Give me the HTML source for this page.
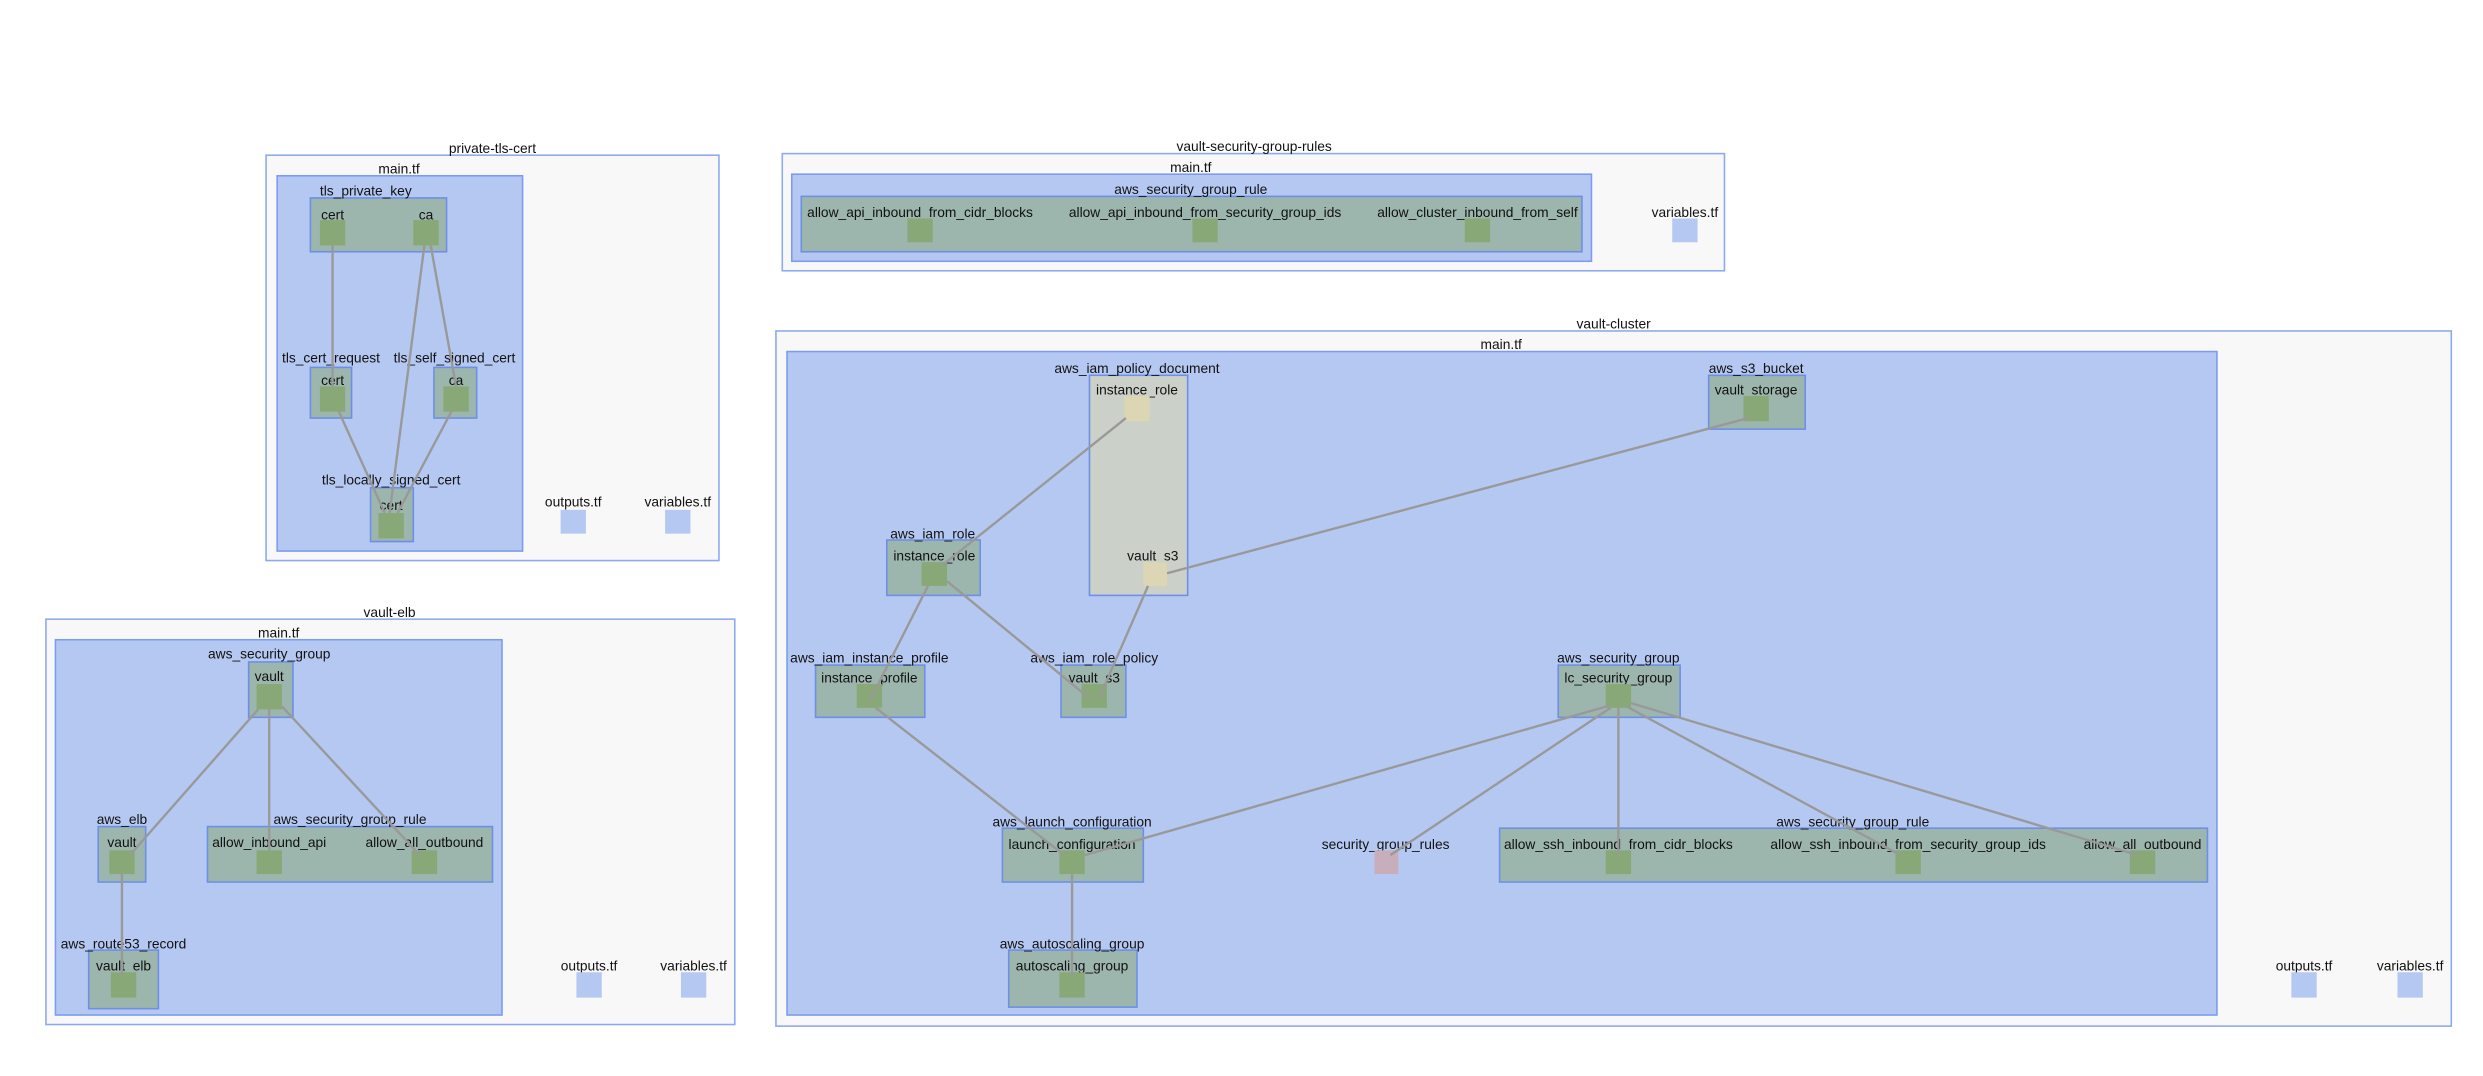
<!DOCTYPE html>
<html><head><meta charset="utf-8"><style>
html,body{margin:0;padding:0;background:#fff;}
svg{display:block;}
text{font-family:"Liberation Sans",sans-serif;font-size:8.7px;fill:#111;text-anchor:middle;transform:translateY(1px);}
.o{fill:#f8f8f8;stroke:#8caaf0;stroke-width:1;}
.m{fill:#b5c8f2;stroke:#7b9cf0;stroke-width:1;}
.r{fill:#9cb5ad;stroke:#6e8fe6;stroke-width:1;}
.p{fill:#cbd0c8;stroke:#6e8fe6;stroke-width:1;}
.s{fill:#88a878;}
.t{fill:#ddd6b4;}
.f{fill:#b5c8f2;}
.k{fill:#c8aebb;}
.e{stroke:#999;stroke-width:1.5;fill:none;}
</style></head><body>
<svg width="2483" height="1076" viewBox="0 0 1568 679.5" xmlns="http://www.w3.org/2000/svg">
<!-- private-tls-cert -->
<rect class="o" x="168" y="98" width="286" height="256"/><text x="311" y="95.5">private-tls-cert</text>
<rect class="m" x="175" y="111" width="155" height="237"/><text x="252" y="108.5">main.tf</text>
<rect class="r" x="196" y="125" width="86" height="34"/><text x="231" y="122.5">tls_private_key</text>
<text x="210" y="137.5">cert</text><rect class="s" x="202" y="139" width="16" height="16"/>
<text x="269" y="137.5">ca</text><rect class="s" x="261" y="139" width="16" height="16"/>
<rect class="r" x="196" y="232" width="26" height="32"/><text x="209" y="228">tls_cert_request</text>
<text x="210" y="242">cert</text><rect class="s" x="202" y="244" width="16" height="16"/>
<rect class="r" x="274" y="232" width="27" height="32"/><text x="287" y="228">tls_self_signed_cert</text>
<text x="288" y="242">ca</text><rect class="s" x="280" y="244" width="16" height="16"/>
<rect class="r" x="234" y="308" width="27" height="34"/><text x="247" y="305">tls_locally_signed_cert</text>
<text x="247" y="321">cert</text><rect class="s" x="239" y="324" width="16" height="16"/>
<text x="362" y="319">outputs.tf</text><rect class="f" x="354" y="322" width="16" height="15"/>
<text x="428" y="319">variables.tf</text><rect class="f" x="420" y="322" width="16" height="15"/>
<line class="e" x1="210" y1="155" x2="210" y2="244"/>
<line class="e" x1="268" y1="155" x2="246" y2="324"/>
<line class="e" x1="272" y1="155" x2="288" y2="244"/>
<line class="e" x1="214" y1="260" x2="243" y2="324"/>
<line class="e" x1="285" y1="260" x2="251" y2="324"/>

<!-- vault-security-group-rules -->
<rect class="o" x="494" y="97" width="595" height="74"/><text x="792" y="94.5">vault-security-group-rules</text>
<rect class="m" x="500" y="110" width="505" height="55"/><text x="752" y="107.5">main.tf</text>
<rect class="r" x="506" y="124" width="493" height="35"/><text x="752" y="121.5">aws_security_group_rule</text>
<text x="581" y="136">allow_api_inbound_from_cidr_blocks</text><rect class="s" x="573" y="138" width="16" height="15"/>
<text x="761" y="136">allow_api_inbound_from_security_group_ids</text><rect class="s" x="753" y="138" width="16" height="15"/>
<text x="933" y="136">allow_cluster_inbound_from_self</text><rect class="s" x="925" y="138" width="16" height="15"/>
<text x="1064" y="136">variables.tf</text><rect class="f" x="1056" y="138" width="16" height="15"/>

<!-- vault-elb -->
<rect class="o" x="29" y="391" width="435" height="256"/><text x="246" y="388.5">vault-elb</text>
<rect class="m" x="35" y="404" width="282" height="237"/><text x="176" y="401.5">main.tf</text>
<rect class="r" x="157" y="418" width="28" height="35"/><text x="170" y="415">aws_security_group</text>
<text x="170" y="429">vault</text><rect class="s" x="162" y="432" width="16" height="16"/>
<rect class="r" x="62" y="522" width="30" height="35"/><text x="77" y="519.5">aws_elb</text>
<text x="77" y="534">vault</text><rect class="s" x="69" y="537" width="16" height="15"/>
<rect class="r" x="131" y="522" width="180" height="35"/><text x="221" y="519.5">aws_security_group_rule</text>
<text x="170" y="534">allow_inbound_api</text><rect class="s" x="162" y="537" width="16" height="15"/>
<text x="268" y="534">allow_all_outbound</text><rect class="s" x="260" y="537" width="16" height="15"/>
<rect class="r" x="56" y="600" width="44" height="37"/><text x="78" y="598">aws_route53_record</text>
<text x="78" y="612">vault_elb</text><rect class="s" x="70" y="614" width="16" height="16"/>
<text x="372" y="612">outputs.tf</text><rect class="f" x="364" y="614" width="16" height="16"/>
<text x="438" y="612">variables.tf</text><rect class="f" x="430" y="614" width="16" height="16"/>
<line class="e" x1="163" y1="448" x2="82" y2="540"/>
<line class="e" x1="170" y1="448" x2="170" y2="537"/>
<line class="e" x1="178" y1="446" x2="265" y2="540"/>
<line class="e" x1="77" y1="552" x2="77" y2="616"/>

<!-- vault-cluster -->
<rect class="o" x="490" y="209" width="1058" height="439"/><text x="1019" y="206.5">vault-cluster</text>
<rect class="m" x="497" y="222" width="903" height="419"/><text x="948" y="219.5">main.tf</text>
<rect class="p" x="688" y="237" width="62" height="139"/><text x="718" y="234.5">aws_iam_policy_document</text>
<text x="718" y="248">instance_role</text><rect class="t" x="710" y="250" width="16" height="16"/>
<text x="728" y="353">vault_s3</text><rect class="t" x="722" y="355" width="15" height="15"/>
<rect class="r" x="1079" y="237" width="61" height="34"/><text x="1109" y="234.5">aws_s3_bucket</text>
<text x="1109" y="248">vault_storage</text><rect class="s" x="1101" y="250" width="16" height="16"/>
<rect class="r" x="560" y="341" width="59" height="35"/><text x="589" y="339">aws_iam_role</text>
<text x="590" y="353">instance_role</text><rect class="s" x="582" y="355" width="16" height="15"/>
<rect class="r" x="515" y="420" width="69" height="33"/><text x="549" y="417.5">aws_iam_instance_profile</text>
<text x="549" y="430">instance_profile</text><rect class="s" x="541" y="432" width="16" height="15"/>
<rect class="r" x="670" y="420" width="41" height="33"/><text x="691" y="417.5">aws_iam_role_policy</text>
<text x="691" y="430">vault_s3</text><rect class="s" x="683" y="432" width="16" height="15"/>
<rect class="r" x="984" y="420" width="77" height="33"/><text x="1022" y="417.5">aws_security_group</text>
<text x="1022" y="430">lc_security_group</text><rect class="s" x="1014" y="432" width="16" height="15"/>
<rect class="r" x="633" y="523" width="89" height="34"/><text x="677" y="521">aws_launch_configuration</text>
<text x="677" y="535">launch_configuration</text><rect class="s" x="669" y="537" width="16" height="15"/>
<text x="875" y="535">security_group_rules</text><rect class="k" x="868" y="537" width="15" height="15"/>
<rect class="r" x="947" y="523" width="447" height="34"/><text x="1170" y="521">aws_security_group_rule</text>
<text x="1022" y="535">allow_ssh_inbound_from_cidr_blocks</text><rect class="s" x="1014" y="537" width="16" height="15"/>
<text x="1205" y="535">allow_ssh_inbound_from_security_group_ids</text><rect class="s" x="1197" y="537" width="16" height="15"/>
<text x="1353" y="535">allow_all_outbound</text><rect class="s" x="1345" y="537" width="16" height="15"/>
<rect class="r" x="637" y="600" width="81" height="36"/><text x="677" y="598">aws_autoscaling_group</text>
<text x="677" y="612">autoscaling_group</text><rect class="s" x="669" y="614" width="16" height="16"/>
<text x="1455" y="612">outputs.tf</text><rect class="f" x="1447" y="614" width="16" height="16"/>
<text x="1522" y="612">variables.tf</text><rect class="f" x="1514" y="614" width="16" height="16"/>
<line class="e" x1="711" y1="264" x2="595" y2="357"/>
<line class="e" x1="737" y1="362" x2="1104" y2="264"/>
<line class="e" x1="586" y1="370" x2="549" y2="443"/>
<line class="e" x1="598" y1="367" x2="688" y2="441"/>
<line class="e" x1="725" y1="370" x2="694" y2="441"/>
<line class="e" x1="553" y1="447" x2="672" y2="540"/>
<line class="e" x1="1015" y1="446" x2="685" y2="540"/>
<line class="e" x1="1017" y1="447" x2="878" y2="540"/>
<line class="e" x1="1022" y1="447" x2="1022" y2="540"/>
<line class="e" x1="1027" y1="446" x2="1200" y2="540"/>
<line class="e" x1="1030" y1="444" x2="1350" y2="540"/>
<line class="e" x1="677" y1="552" x2="677" y2="616"/>
</svg>
</body></html>
